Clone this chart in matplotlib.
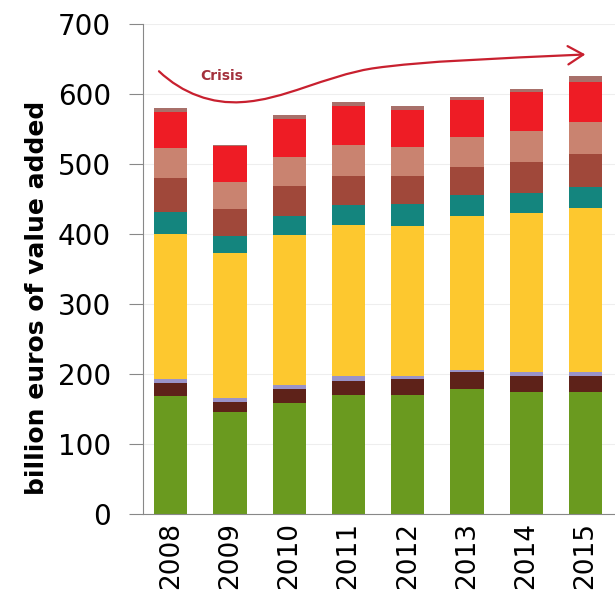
import matplotlib
matplotlib.use("Agg")
import matplotlib.pyplot as plt
import numpy as np
from matplotlib.path import Path
from matplotlib.patches import FancyArrowPatch

# Years and stacked segments (billion euros), bottom to top
years = ['2008', '2009', '2010', '2011', '2012', '2013', '2014', '2015']
green = [168, 145, 159, 170, 170, 179, 174, 174]
maroon = [19, 15, 19, 20, 22, 23, 23, 23]
lavender = [5, 6, 6, 7, 5, 4, 5, 5]
yellow = [208, 206, 214, 215, 214, 219, 227, 235]
teal = [31, 25, 27, 29, 31, 30, 29, 30]
brown = [49, 38, 43, 42, 40, 41, 45, 47]
salmon = [43, 39, 42, 44, 42, 42, 43, 46]
red = [51, 51, 54, 56, 52, 53, 56, 57]
cap = [5, 2, 6, 5, 7, 4, 5, 8]

series = [green, maroon, lavender, yellow, teal, brown, salmon, red, cap]
colors = ['#6a9a1f', '#5e2219', '#9a93c8', '#fdc82f', '#14857e',
          '#a0483a', '#c98370', '#ee1c25', '#a8706a']

# "Crisis" arrow path (x in bar index, y in billion euros)
crisis_verts = [(-0.2, 632), (0.2, 600), (0.7, 585), (1.2, 588),
                (1.9, 591), (2.6, 625), (3.4, 636),
                (4.3, 647), (5.5, 650), (7.0, 656)]

plt.rcParams['font.family'] = ['DejaVu Sans']

fig = plt.figure(figsize=(6.15, 6.06), dpi=100)
ax = fig.add_axes([0.2325, 0.152, 0.7675, 0.809])

x = np.arange(len(years))
bottom = np.zeros(len(years))
for vals, c in zip(series, colors):
    ax.bar(x, vals, width=0.56, bottom=bottom, color=c, zorder=2)
    bottom += np.array(vals)

codes = [Path.MOVETO] + [Path.CURVE4] * 9
arrow = FancyArrowPatch(path=Path(crisis_verts, codes),
                        arrowstyle='->,head_length=0.5,head_width=0.3',
                        mutation_scale=22, color='#c8202f', lw=1.6, zorder=3)
ax.add_patch(arrow)
ax.text(0.86, 625, 'Crisis', color='#a3303c', fontsize=10, fontweight='bold',
        ha='center', va='center', zorder=3)

ax.set_xlim(-0.47, 7.5)
ax.set_ylim(0, 700)
ax.set_yticks(range(0, 701, 100))
ax.set_xticks(x)
ax.set_xticklabels(years, rotation=90, fontsize=19)
ax.tick_params(axis='y', labelsize=20, length=10, color='#888888', pad=13)
ax.tick_params(axis='x', length=0, pad=6)
ax.set_ylabel('billion euros of value added', fontsize=18, fontweight='bold')
ax.yaxis.set_label_coords(-0.2, 0.44)

ax.grid(axis='y', color='#eeeeee', linewidth=0.8, zorder=0)
for s in ['top', 'right']:
    ax.spines[s].set_visible(False)
ax.spines['left'].set_color('#888888')
ax.spines['bottom'].set_color('#888888')

fig.savefig('out.png', dpi=100)
